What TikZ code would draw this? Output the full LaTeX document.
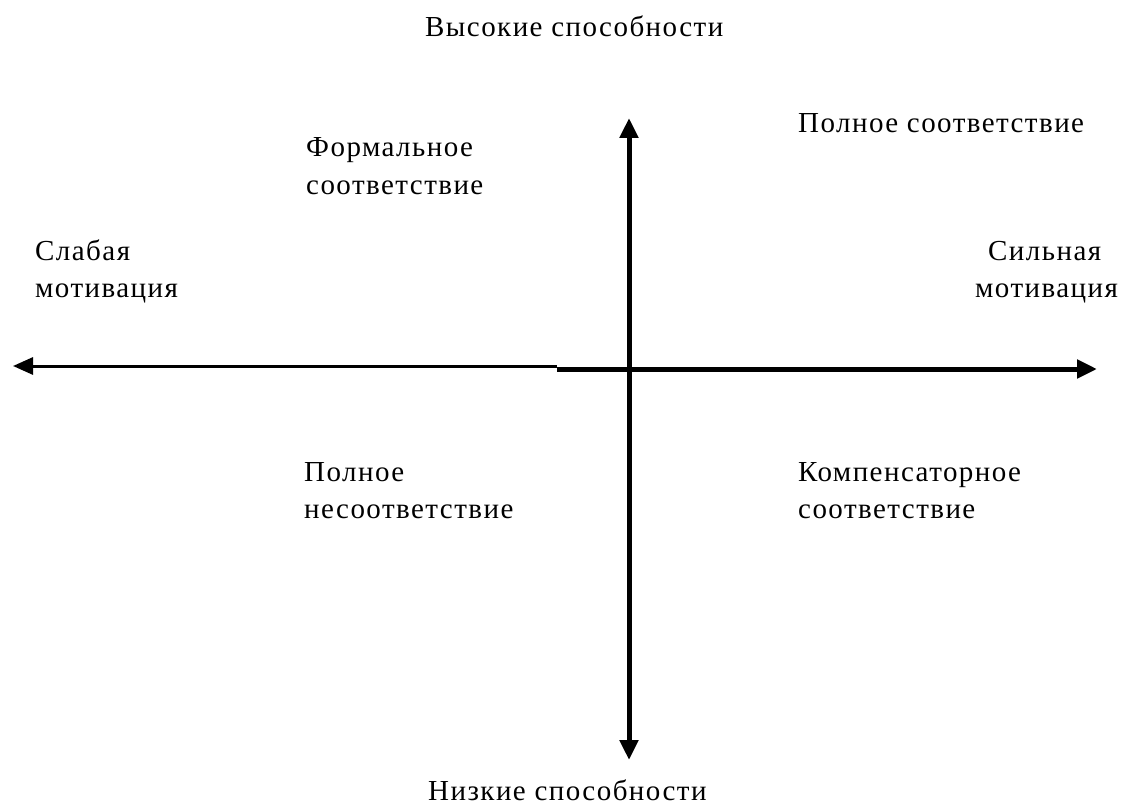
\documentclass[tikz,border=0pt]{standalone}
\usepackage{fontspec}
\setmainfont{Liberation Serif}
\newfontfamily\lbl[LetterSpace=5]{Liberation Serif}
\usetikzlibrary{arrows.meta}
\tikzset{
  lab/.style={anchor=base west, inner sep=0pt, font=\lbl\fontsize{29}{37}\selectfont},
  thinaxis/.style={line width=3pt, -{Triangle[length=20pt,width=17pt]}},
  thickaxis/.style={line width=5pt, -{Triangle[length=20pt,width=18pt]}},
}
\begin{document}
\begin{tikzpicture}[x=1pt,y=-1pt]
\useasboundingbox (0,0) rectangle (1123,805);
% axes
\coordinate (hstart) at (557,369);
\coordinate (hstartthin) at (557,366);
\coordinate (left) at (13,366);
\coordinate (right) at (1097,369);
\coordinate (top) at (629,118);
\coordinate (bottom) at (629,760);
\draw[thinaxis] (hstartthin) -- (left);
\draw[thickaxis] (hstart) -- (right);
\draw[line width=5pt, {Triangle[length=20pt,width=18pt]}-{Triangle[length=20pt,width=18pt]}] (top) -- (bottom);
% labels
\node[lab] (high) at (425,37) {Высокие способности};
\node[lab] (low) at (428,800) {Низкие способности};
\node[lab] (full) at (798,133) {Полное соответствие};
\node[lab] (form1) at (306,157) {Формальное};
\node[lab] (form2) at (306,194) {соответствие};
\node[lab] (weak1) at (35,260) {Слабая};
\node[lab] (weak2) at (35,297) {мотивация};
\node[lab] (strong1) at (988,260) {Сильная};
\node[lab] (strong2) at (975,297) {мотивация};
\node[lab] (none1) at (304,481) {Полное};
\node[lab] (none2) at (304,518) {несоответствие};
\node[lab] (comp1) at (798,481) {Компенсаторное};
\node[lab] (comp2) at (798,518) {соответствие};
\end{tikzpicture}
\end{document}
